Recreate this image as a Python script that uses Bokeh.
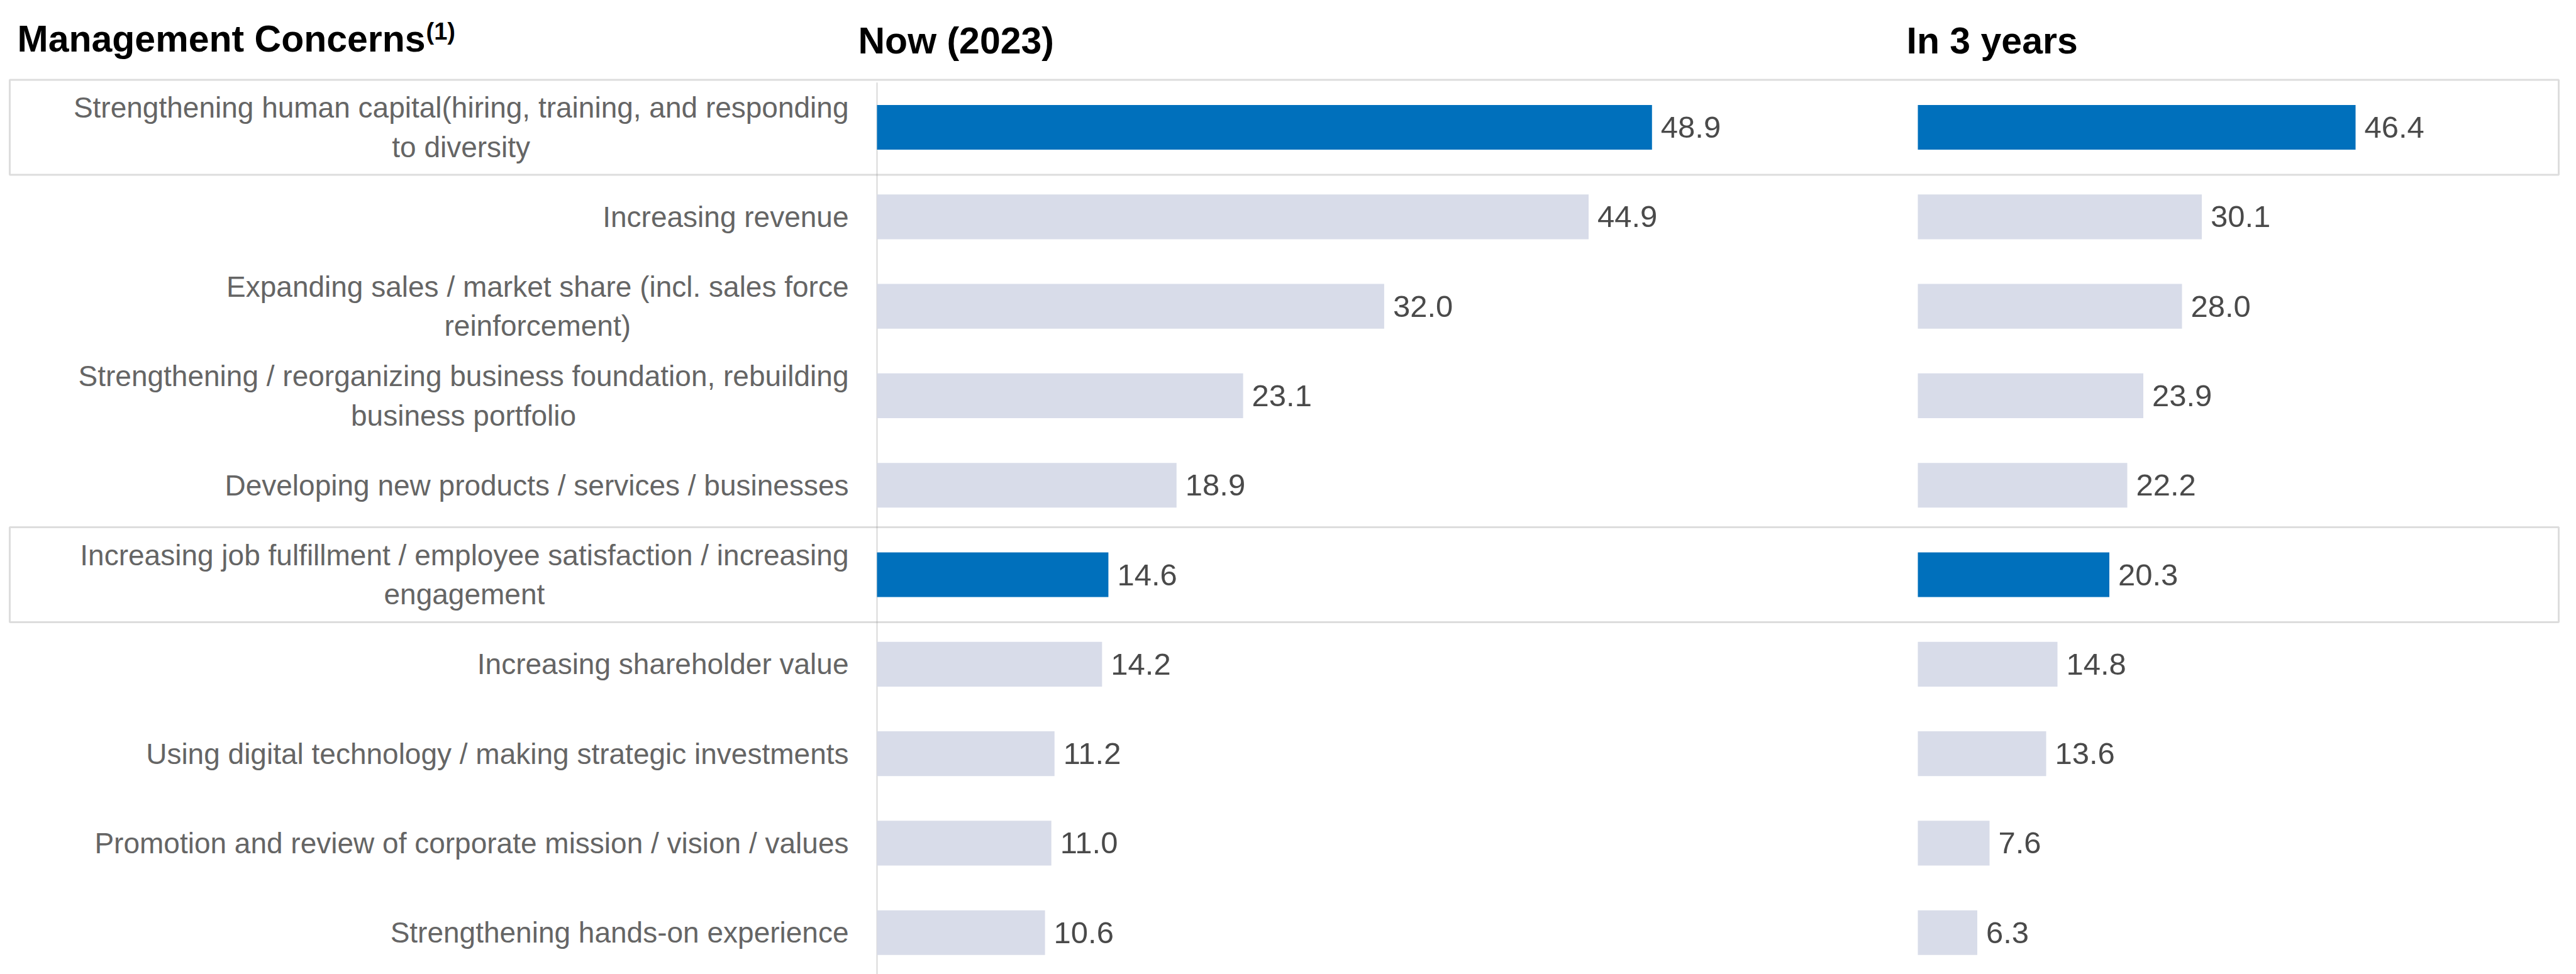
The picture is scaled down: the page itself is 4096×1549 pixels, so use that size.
import numpy as np
from bokeh.plotting import figure
from bokeh.models import Range1d, ColumnDataSource, Label, BoxAnnotation
from bokeh.core.properties import value
from bokeh.embed import file_html
from bokeh.resources import INLINE

# ---------------- data ----------------
categories = [
    "Strengthening human capital(hiring, training, and responding\nto diversity",
    "Increasing revenue",
    "Expanding sales / market share (incl. sales force\nreinforcement)",
    "Strengthening / reorganizing business foundation, rebuilding\nbusiness portfolio",
    "Developing new products / services / businesses",
    "Increasing job fulfillment / employee satisfaction / increasing\nengagement",
    "Increasing shareholder value",
    "Using digital technology / making strategic investments",
    "Promotion and review of corporate mission / vision / values",
    "Strengthening hands-on experience",
]
now_2023 = [48.9, 44.9, 32.0, 23.1, 18.9, 14.6, 14.2, 11.2, 11.0, 10.6]
in_3_years = [46.4, 30.1, 28.0, 23.9, 22.2, 20.3, 14.8, 13.6, 7.6, 6.3]
highlighted = [True, False, False, False, False, True, False, False, False, False]

title_main = "Management Concerns"
title_sup = "(1)"
title_now = "Now (2023)"
title_future = "In 3 years"

# ---------------- layout (px) ----------------
W, H = 4096, 1549
row0, row_h = 202.0, 142.3          # first row centre, row pitch
zero_left, ppu_left = 1394.0, 25.2   # left panel zero and px per unit
zero_right, ppu_right = 3049.0, 15.0 # right panel zero and px per unit

FONT_NAME = "Liberation Sans"
FONT = value(FONT_NAME)
BLUE = "#0070BC"
LIGHT = "#D8DCE9"

n = len(categories)
idx = np.arange(n)
y_top = -row0 / row_h
y_bot = (H - row0) / row_h

p = figure(width=W, height=H, output_backend="svg", toolbar_location=None,
           x_range=Range1d(-zero_left / ppu_left, (W - zero_left) / ppu_left),
           y_range=Range1d(y_bot, y_top),
           x_axis_location=None, y_axis_location=None, min_border=0)
p.extra_x_ranges = {"future": Range1d(-zero_right / ppu_right, (W - zero_right) / ppu_right)}
p.grid.visible = False
p.outline_line_color = None
p.background_fill_color = "white"
p.border_fill_color = "white"

colors = [BLUE if h else LIGHT for h in highlighted]
src = ColumnDataSource(dict(
    y=idx, now=now_2023, fut=in_3_years, color=colors, label=categories,
    now_txt=[f"{v:.1f}" for v in now_2023],
    fut_txt=[f"{v:.1f}" for v in in_3_years],
))

# vertical baseline of the left panel
p.segment(x0=0, y0=idx[0] - 0.5, x1=0, y1=y_bot, line_color="#D9D9D9", line_width=2)

# bars
p.hbar(y="y", left=0, right="now", height=0.5, fill_color="color", line_color=None, source=src)
p.hbar(y="y", left=0, right="fut", height=0.5, fill_color="color", line_color=None,
       source=src, x_range_name="future")

# value labels
p.text(x="now", y="y", text="now_txt", x_offset=14, text_align="left", text_baseline="middle",
       text_font=FONT, text_font_size="49px", text_color="#4A4A4A", source=src)
p.text(x="fut", y="y", text="fut_txt", x_offset=14, text_align="left", text_baseline="middle",
       text_font=FONT, text_font_size="49px", text_color="#4A4A4A", source=src,
       x_range_name="future")

# category labels (block right-aligned, lines centred)
p.text(x=0, y="y", text="label", x_offset=-45, anchor="center_right", text_align="center",
       text_baseline="middle", text_font=FONT, text_font_size="46px", text_color="#656565",
       text_line_height=1.2, source=src)

# highlight boxes
for i, h in enumerate(highlighted):
    if h:
        p.add_layout(BoxAnnotation(left=15, right=4068, left_units="screen", right_units="screen",
                                   top=idx[i] - 0.53, bottom=idx[i] + 0.53,
                                   fill_alpha=0, line_color="#8E8E8E", line_width=3))

# titles
p.add_layout(Label(x=27, y=H - 61, x_units="screen", y_units="screen", text=title_main,
                   text_font=FONT_NAME, text_font_size="59px", text_font_style="bold",
                   text_baseline="alphabetic", text_color="black"))
p.add_layout(Label(x=677, y=H - 49, x_units="screen", y_units="screen", text=title_sup,
                   text_font=FONT_NAME, text_font_size="38px", text_font_style="bold",
                   text_baseline="alphabetic", text_color="black"))
p.add_layout(Label(x=1364, y=H - 64, x_units="screen", y_units="screen", text=title_now,
                   text_font=FONT_NAME, text_font_size="59px", text_font_style="bold",
                   text_baseline="alphabetic", text_color="black"))
p.add_layout(Label(x=3031, y=H - 64, x_units="screen", y_units="screen", text=title_future,
                   text_font=FONT_NAME, text_font_size="59px", text_font_style="bold",
                   text_baseline="alphabetic", text_color="black"))

open("out.html", "w").write(file_html(p, INLINE))
